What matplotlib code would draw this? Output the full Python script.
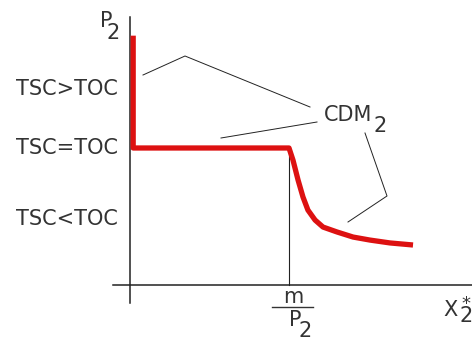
import matplotlib.pyplot as plt
import numpy as np

# demand curve for good 2 (x in units of m/P2, price in units of TSC=TOC level)
curve_x = [0.02, 0.02, 1.0, 1.025, 1.057, 1.088, 1.119, 1.164, 1.214, 1.302,
           1.403, 1.509, 1.635, 1.78]
curve_p = [1.82, 1.0, 1.0, 0.912, 0.766, 0.642, 0.547, 0.474, 0.423, 0.387,
           0.350, 0.328, 0.307, 0.292]

region_labels = ["TSC>TOC", "TSC=TOC", "TSC<TOC"]
region_p = [1.43, 1.0, 0.48]

m_over_p2 = 1.0


def px(x, y):
    # pixel position in the picture -> data units
    return ((x - 130) / 159.0, (285 - y) / 137.0)


fig = plt.figure(figsize=(4.72, 3.40), dpi=100)
ax = fig.add_axes([0, 0, 1, 1])
ax.set_xlim(px(0, 0)[0], px(472, 0)[0])
ax.set_ylim(px(0, 340)[1], px(0, 0)[1])
ax.axis("off")

# axes lines
x0, y0 = px(113, 303)
x1, y1 = px(472, 17)
ax.plot([x0, x1], [0, 0], color="#222222", lw=1.1)
ax.plot([0, 0], [y0, y1], color="#222222", lw=1.1)

# guide at m/P2
ax.plot([m_over_p2, m_over_p2], [0, 1.0], color="#222222", lw=0.8)

# red demand curve
ax.plot(curve_x, curve_p, color="#dd1111", lw=3.8, solid_capstyle="butt",
        solid_joinstyle="round")

# leader lines to CDM2
leaders = [
    [(143, 75), (185, 56), (310, 107)],
    [(221, 138), (317, 122)],
    [(365, 133), (387, 196), (348, 222)],
]
for pts in leaders:
    xy = np.array([px(a, b) for a, b in pts])
    ax.plot(xy[:, 0], xy[:, 1], color="#222222", lw=0.7)

font = dict(family="DejaVu Sans", color="#333333")

for lab, p in zip(region_labels, region_p):
    ax.text(px(118, 0)[0], p, lab, ha="right", va="center", fontsize=15, **font)

# P2 axis label
ax.text(*px(106, 21), "P", ha="center", va="center", fontsize=15, **font)
ax.text(*px(113, 33), "2", ha="center", va="center", fontsize=15, **font)

# CDM2
ax.text(*px(324, 115), "CDM", ha="left", va="center", fontsize=15, **font)
ax.text(*px(380, 126), "2", ha="center", va="center", fontsize=15, **font)

# m / P2 tick
ax.text(*px(293, 297), "m", ha="center", va="center", fontsize=15, **font)
bx0, by = px(272, 307)
bx1, _ = px(313, 307)
ax.plot([bx0, bx1], [by, by], color="#333333", lw=1.0)
ax.text(*px(295, 320), "P", ha="center", va="center", fontsize=15, **font)
ax.text(*px(305, 331), "2", ha="center", va="center", fontsize=15, **font)

# X2* label
ax.text(*px(450, 310), "X", ha="center", va="center", fontsize=15, **font)
ax.text(*px(466, 304), "*", ha="center", va="center", fontsize=13, **font)
ax.text(*px(466, 316), "2", ha="center", va="center", fontsize=15, **font)

fig.savefig("out.png", dpi=100, facecolor="white")
